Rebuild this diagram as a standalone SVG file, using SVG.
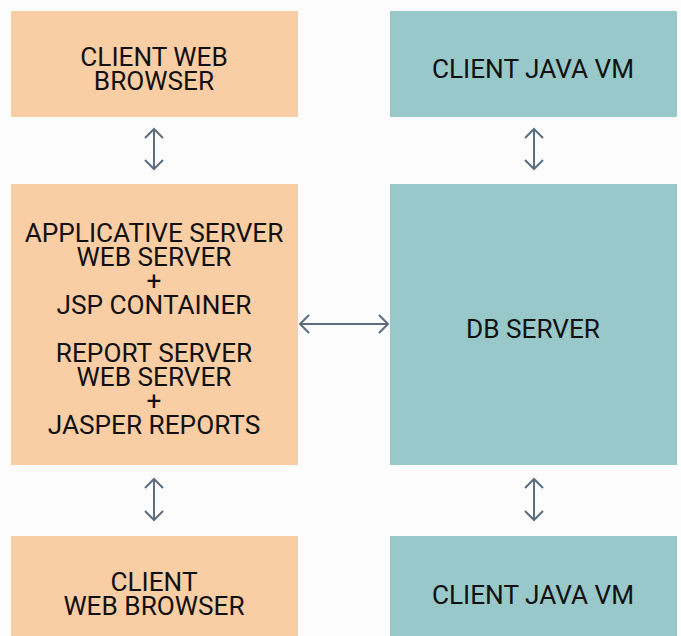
<svg xmlns="http://www.w3.org/2000/svg" width="681" height="636" viewBox="0 0 681 636">
<defs>
<style>
.peach{fill:#facea4}
.teal{fill:#98c8ca}
.t{font-family:Roboto,"Liberation Sans",sans-serif;font-size:26.2px;fill:#111;text-anchor:middle}
.c{stroke:#5b6d7e;stroke-width:2;fill:none}
</style>
<marker id="ah" viewBox="0 0 12 20" refX="10" refY="10" markerWidth="12" markerHeight="20" markerUnits="userSpaceOnUse" orient="auto-start-reverse">
<path d="M1,1 L10,10 L1,19" fill="none" stroke="#5b6d7e" stroke-width="2"/>
</marker>
</defs>
<rect width="681" height="636" fill="#fcfcfc"/>
<g id="client-web-browser-top">
<rect class="peach" x="11" y="11" width="287" height="106"/>
<text class="t" x="154" y="66">CLIENT WEB</text>
<text class="t" x="154" y="90">BROWSER</text>
</g>
<g id="client-java-vm-top">
<rect class="teal" x="390" y="11" width="287" height="106"/>
<text class="t" x="533" y="78">CLIENT JAVA VM</text>
</g>
<g id="applicative-server">
<rect class="peach" x="11" y="184" width="287" height="281"/>
<text class="t" x="154" y="242">APPLICATIVE SERVER</text>
<text class="t" x="154" y="266">WEB SERVER</text>
<text class="t" x="154" y="290">+</text>
<text class="t" x="154" y="314">JSP CONTAINER</text>
<text class="t" x="154" y="362">REPORT SERVER</text>
<text class="t" x="154" y="386">WEB SERVER</text>
<text class="t" x="154" y="410">+</text>
<text class="t" x="154" y="434">JASPER REPORTS</text>
</g>
<g id="db-server">
<rect class="teal" x="390" y="184" width="287" height="281"/>
<text class="t" x="533" y="338">DB SERVER</text>
</g>
<g id="client-web-browser-bottom">
<rect class="peach" x="11" y="536" width="287" height="100"/>
<text class="t" x="154" y="591">CLIENT</text>
<text class="t" x="154" y="615">WEB BROWSER</text>
</g>
<g id="client-java-vm-bottom">
<rect class="teal" x="390" y="536" width="287" height="100"/>
<text class="t" x="533" y="604">CLIENT JAVA VM</text>
</g>
<g id="connectors">
<line class="c" x1="154" y1="129" x2="154" y2="169" marker-start="url(#ah)" marker-end="url(#ah)"/>
<line class="c" x1="534" y1="129" x2="534" y2="169" marker-start="url(#ah)" marker-end="url(#ah)"/>
<line class="c" x1="300" y1="324" x2="388" y2="324" marker-start="url(#ah)" marker-end="url(#ah)"/>
<line class="c" x1="154" y1="479" x2="154" y2="520" marker-start="url(#ah)" marker-end="url(#ah)"/>
<line class="c" x1="534" y1="479" x2="534" y2="520" marker-start="url(#ah)" marker-end="url(#ah)"/>
</g>
</svg>
